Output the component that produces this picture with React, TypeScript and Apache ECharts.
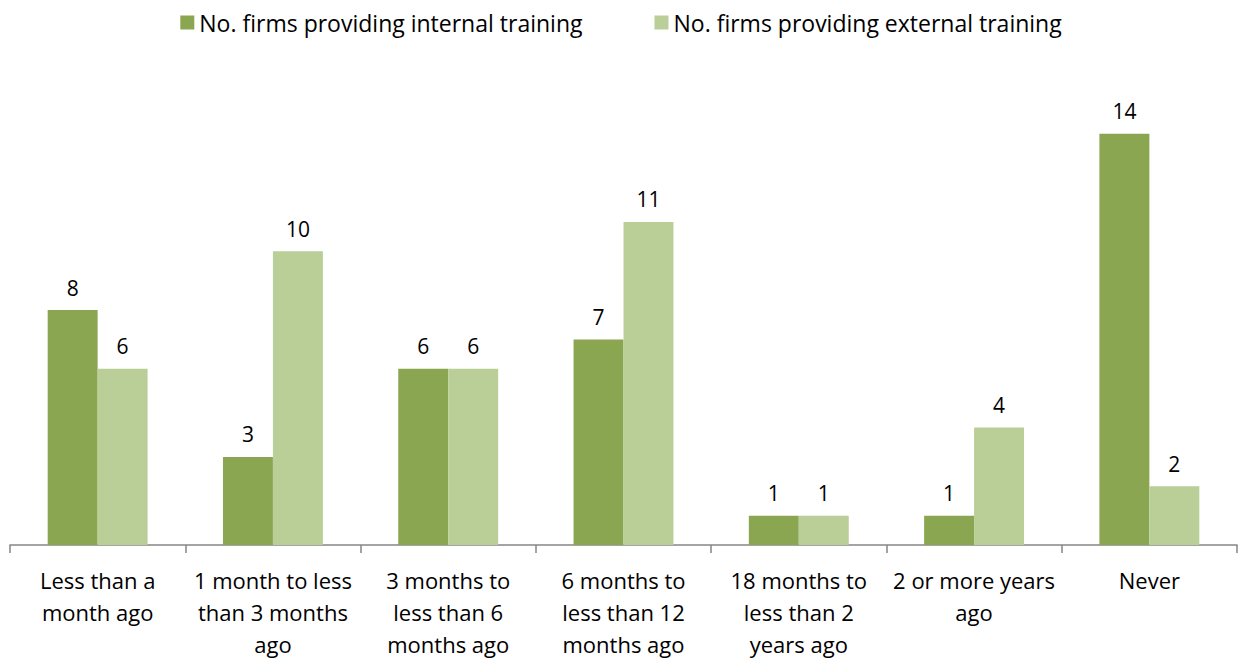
import React, { useEffect, useRef } from "react";
import * as echarts from "echarts";

const categories = [
  "Less than a\nmonth ago",
  "1 month to less\nthan 3 months\nago",
  "3 months to\nless than 6\nmonths ago",
  "6 months to\nless than 12\nmonths ago",
  "18 months to\nless than 2\nyears ago",
  "2 or more years\nago",
  "Never",
];
const internalTraining = [8, 3, 6, 7, 1, 1, 14];
const externalTraining = [6, 10, 6, 11, 1, 4, 2];
const seriesNames = [
  "No. firms providing internal training",
  "No. firms providing external training",
];

const FONT = "'Open Sans', 'Liberation Sans', sans-serif";

export default function App() {
  const ref = useRef<HTMLDivElement>(null);
  useEffect(() => {
    if (!ref.current) return;
    const chart = echarts.init(ref.current, null, { renderer: "svg" });
    const label = {
      show: true,
      position: "top" as const,
      distance: 12,
      color: "#000",
      fontSize: 21,
      fontFamily: FONT,
    };
    chart.setOption({
      animation: false,
      backgroundColor: "#fff",
      legend: {
        top: 6,
        left: "center",
        itemWidth: 14,
        itemHeight: 14,
        itemGap: 72,
        icon: "rect",
        textStyle: { fontSize: 23, fontFamily: FONT, color: "#000" },
        data: seriesNames,
      },
      grid: { left: 10, right: 5, top: 75, bottom: 117, containLabel: false },
      xAxis: {
        type: "category",
        data: categories,
        axisLine: { lineStyle: { color: "#868686", width: 1.5 } },
        axisTick: { show: true, length: 8, lineStyle: { color: "#868686", width: 1.5 } },
        axisLabel: {
          interval: 0,
          fontSize: 22,
          lineHeight: 32,
          margin: 19,
          color: "#000",
          fontFamily: FONT,
        },
      },
      yAxis: {
        type: "value",
        min: 0,
        max: 16,
        show: false,
        splitLine: { show: false },
      },
      series: [
        {
          name: seriesNames[0],
          type: "bar",
          data: internalTraining,
          itemStyle: { color: "#8AA650" },
          barGap: "0%",
          barCategoryGap: "43%",
          label,
        },
        {
          name: seriesNames[1],
          type: "bar",
          data: externalTraining,
          itemStyle: { color: "#BACF97" },
          barGap: "0%",
          barCategoryGap: "43%",
          label,
        },
      ],
    });
    return () => chart.dispose();
  }, []);
  return (
    <div
      ref={ref}
      style={{ position: "absolute", left: 0, top: 0, width: 1242, height: 662 }}
    />
  );
}
